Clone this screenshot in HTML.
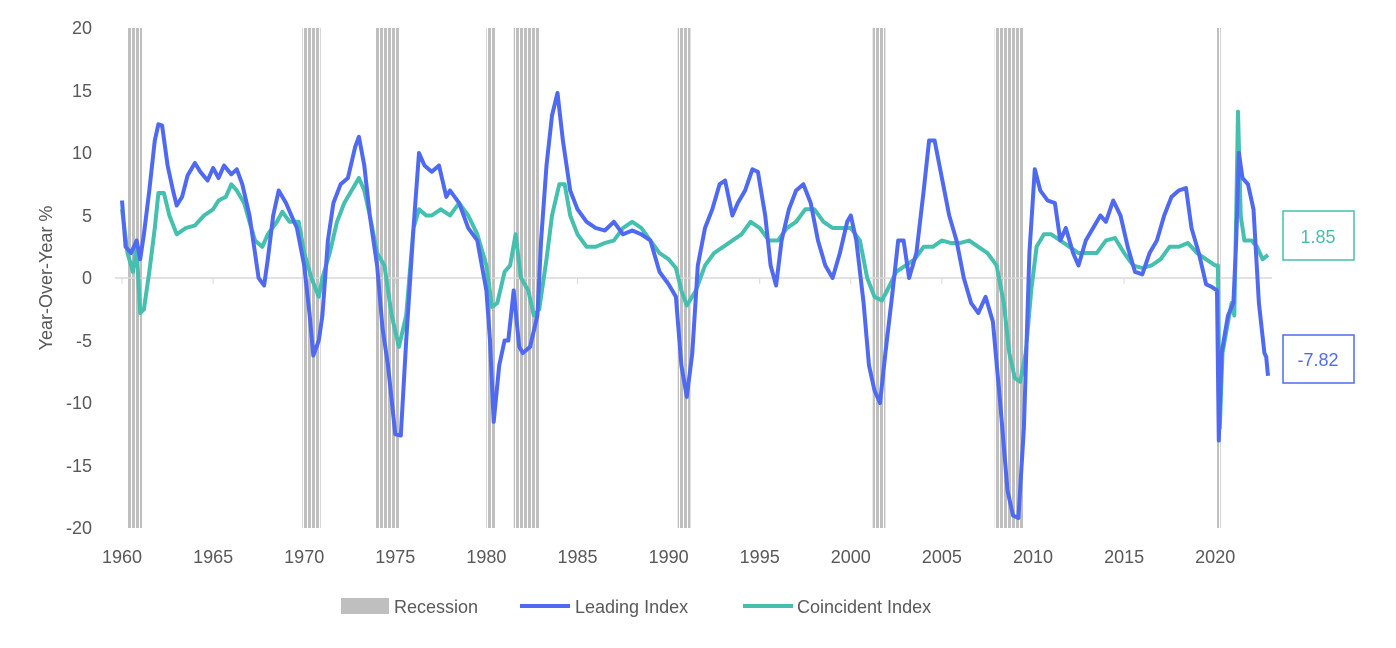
<!DOCTYPE html>
<html><head><meta charset="utf-8"><style>
body{margin:0;background:#fff;}
svg text{font-family:"Liberation Sans",sans-serif;fill:#595959;}
</style></head><body>
<svg id="s" width="1396" height="643" xmlns="http://www.w3.org/2000/svg">
<defs><pattern id="st" width="4" height="10" patternUnits="userSpaceOnUse"><rect width="3" height="10" fill="#bfbfbf"/></pattern></defs>
<g id="rec"></g>
<line x1="115" y1="278" x2="1272" y2="278" stroke="#d9d9d9" stroke-width="1.5"/>
<g id="ticks"></g>
<g font-size="18" text-anchor="end">
<text x="92" y="34">20</text><text x="92" y="97">15</text><text x="92" y="159">10</text><text x="92" y="222">5</text><text x="92" y="284">0</text><text x="92" y="347">-5</text><text x="92" y="409">-10</text><text x="92" y="472">-15</text><text x="92" y="534">-20</text>
</g>
<text x="52" y="278" font-size="18" text-anchor="middle" transform="rotate(-90 52 278)">Year-Over-Year %</text>
<g font-size="18" text-anchor="middle" id="xl"></g>
<path id="co" fill="none" stroke="#45bfae" stroke-width="4" stroke-linejoin="round"/>
<path id="le" fill="none" stroke="#4f6af0" stroke-width="4" stroke-linejoin="round"/>
<rect x="1283" y="211" width="71" height="49" fill="#fff" stroke="#45bfae" stroke-width="1.5"/>
<text x="1318" y="243" font-size="18" text-anchor="middle" style="fill:#45bfae">1.85</text>
<rect x="1283" y="335" width="71" height="48" fill="#fff" stroke="#4f6af0" stroke-width="1.5"/>
<text x="1318" y="366" font-size="18" text-anchor="middle" style="fill:#4f6af0">-7.82</text>
<rect x="341" y="598" width="48" height="16" fill="#bfbfbf"/>
<text x="394" y="613" font-size="18">Recession</text>
<line x1="520" y1="606" x2="570" y2="606" stroke="#4f6af0" stroke-width="4"/>
<text x="575" y="613" font-size="18">Leading Index</text>
<line x1="743" y1="606" x2="793" y2="606" stroke="#45bfae" stroke-width="4"/>
<text x="797" y="613" font-size="18">Coincident Index</text>
</svg>
<script>
var X=function(y){return 122+(y-1960)*18.22},Y=function(v){return 278-v*12.5};
var ns="http://www.w3.org/2000/svg";
var recs=[[1960.3,1961.1],[1969.9,1970.9],[1973.9,1975.2],[1980.0,1980.5],[1981.5,1982.9],[1990.5,1991.2],[2001.2,2001.9],[2007.9,2009.5],[2020.1,2020.3]];
var g=document.getElementById('rec');
recs.forEach(function(r){var e=document.createElementNS(ns,'rect');e.setAttribute('x',X(r[0]));e.setAttribute('y',28);e.setAttribute('width',X(r[1])-X(r[0]));e.setAttribute('height',500);e.setAttribute('fill','url(#st)');g.appendChild(e);});
var xl=document.getElementById('xl'),tk=document.getElementById('ticks');
for(var yr=1960;yr<=2020;yr+=5){var t=document.createElementNS(ns,'text');t.setAttribute('x',X(yr));t.setAttribute('y',563);t.textContent=yr;xl.appendChild(t);
var l=document.createElementNS(ns,'line');l.setAttribute('x1',X(yr));l.setAttribute('x2',X(yr));l.setAttribute('y1',278);l.setAttribute('y2',284);l.setAttribute('stroke','#d9d9d9');tk.appendChild(l);}
var L=[[1960,6.2],[1960.2,2.5],[1960.5,2],[1960.8,3],[1961.0,1.5],[1961.2,3.5],[1961.5,7],[1961.8,11],[1962.0,12.3],[1962.2,12.2],[1962.5,9],[1962.8,7],[1963.0,5.8],[1963.3,6.5],[1963.6,8.2],[1964,9.2],[1964.3,8.5],[1964.7,7.8],[1965,8.8],[1965.3,8],[1965.6,9],[1966,8.3],[1966.3,8.7],[1966.6,7.5],[1967,5],[1967.3,2],[1967.5,0],[1967.8,-0.6],[1968,1.5],[1968.3,5],[1968.6,7],[1969,6],[1969.3,5],[1969.6,4],[1970,1],[1970.3,-3],[1970.5,-6.2],[1970.8,-5],[1971,-3],[1971.3,3],[1971.6,6],[1972,7.5],[1972.4,8],[1972.8,10.5],[1973,11.3],[1973.3,9],[1973.6,5],[1974,1],[1974.3,-4],[1974.6,-7],[1975,-12.5],[1975.3,-12.6],[1975.6,-5],[1976,4],[1976.3,10],[1976.6,9],[1977,8.5],[1977.4,9],[1977.8,6.5],[1978,7],[1978.5,6],[1979,4],[1979.5,3],[1980,-1],[1980.2,-5],[1980.4,-11.5],[1980.7,-7],[1981,-5],[1981.2,-5],[1981.5,-1],[1981.8,-5.5],[1982,-6],[1982.4,-5.5],[1982.8,-3],[1983,3],[1983.3,9],[1983.6,13],[1983.9,14.8],[1984.2,11],[1984.6,7],[1985,5.5],[1985.5,4.5],[1986,4],[1986.5,3.8],[1987,4.5],[1987.5,3.5],[1988,3.8],[1988.5,3.5],[1989,3],[1989.5,0.5],[1990,-0.5],[1990.4,-1.5],[1990.7,-7],[1991,-9.5],[1991.3,-6],[1991.6,1],[1992,4],[1992.4,5.5],[1992.8,7.5],[1993.1,7.8],[1993.5,5],[1993.8,6],[1994.2,7],[1994.6,8.7],[1994.9,8.5],[1995.3,5],[1995.6,1],[1995.9,-0.6],[1996.2,3],[1996.6,5.5],[1997,7],[1997.4,7.5],[1997.8,6],[1998.2,3],[1998.6,1],[1999,0],[1999.4,2],[1999.8,4.5],[2000,5],[2000.3,3],[2000.7,-2],[2001,-7],[2001.3,-9],[2001.6,-10],[2001.9,-6],[2002.3,-1],[2002.6,3],[2002.9,3],[2003.2,0],[2003.6,2],[2004,7],[2004.3,11],[2004.6,11],[2005,8],[2005.4,5],[2005.8,3],[2006.2,0],[2006.6,-2],[2007,-2.8],[2007.4,-1.5],[2007.8,-3.5],[2008.2,-10],[2008.6,-17],[2008.9,-19],[2009.2,-19.2],[2009.5,-12],[2009.8,2],[2010.1,8.7],[2010.4,7],[2010.8,6.2],[2011.2,6],[2011.5,3],[2011.8,4],[2012.2,2],[2012.5,1],[2012.9,3],[2013.3,4],[2013.7,5],[2014,4.5],[2014.4,6.2],[2014.8,5],[2015.2,2.5],[2015.6,0.5],[2016,0.3],[2016.4,2],[2016.8,3],[2017.2,5],[2017.6,6.5],[2018,7],[2018.4,7.2],[2018.7,4],[2019.1,2],[2019.5,-0.5],[2019.8,-0.7],[2020.1,-1],[2020.2,-13],[2020.35,-6],[2020.7,-3],[2021.0,-2],[2021.15,3],[2021.3,10],[2021.5,8],[2021.8,7.5],[2022.1,5.5],[2022.4,-2],[2022.7,-6],[2022.8,-6.3],[2022.9,-7.82]];
var C=[[1960,5.5],[1960.3,2],[1960.6,0.5],[1960.8,2.5],[1961.0,-2.8],[1961.2,-2.5],[1961.5,0.5],[1961.8,4],[1962,6.8],[1962.3,6.8],[1962.6,5],[1963,3.5],[1963.5,4],[1964,4.2],[1964.5,5],[1965,5.5],[1965.3,6.2],[1965.7,6.5],[1966,7.5],[1966.3,7.0],[1966.7,6],[1967,4.5],[1967.3,3],[1967.7,2.5],[1968,3.5],[1968.5,4.5],[1968.8,5.3],[1969.2,4.5],[1969.7,4.5],[1970,2],[1970.4,0],[1970.8,-1.5],[1971,0],[1971.4,2],[1971.8,4.5],[1972.2,6],[1972.6,7],[1973,8],[1973.3,7],[1973.6,5],[1974,2],[1974.4,1],[1974.8,-3],[1975.2,-5.5],[1975.6,-3],[1976,4],[1976.3,5.5],[1976.7,5],[1977,5],[1977.5,5.5],[1978,5],[1978.5,6],[1979,5],[1979.5,3.5],[1980,1],[1980.3,-2.3],[1980.6,-2],[1981,0.5],[1981.3,1],[1981.6,3.5],[1981.9,0],[1982.3,-1],[1982.6,-3],[1982.9,-2.5],[1983.3,1.5],[1983.6,5],[1984,7.5],[1984.3,7.5],[1984.6,5],[1985,3.5],[1985.5,2.5],[1986,2.5],[1986.5,2.8],[1987,3],[1987.5,4],[1988,4.5],[1988.5,4],[1989,3],[1989.5,2],[1990,1.5],[1990.4,0.8],[1990.7,-1],[1991,-2.2],[1991.5,-1],[1992,1],[1992.5,2],[1993,2.5],[1993.5,3],[1994,3.5],[1994.5,4.5],[1995,4],[1995.5,3],[1996,3],[1996.5,4],[1997,4.5],[1997.5,5.5],[1998,5.5],[1998.5,4.5],[1999,4],[1999.5,4],[2000,4],[2000.5,3],[2000.9,0],[2001.3,-1.5],[2001.7,-1.8],[2002,-1],[2002.5,0.5],[2003,1],[2003.5,1.5],[2004,2.5],[2004.5,2.5],[2005,3],[2005.5,2.8],[2006,2.8],[2006.5,3],[2007,2.5],[2007.5,2],[2008,1],[2008.4,-2],[2008.7,-6],[2009,-8],[2009.3,-8.3],[2009.6,-6],[2009.9,-1],[2010.2,2.5],[2010.6,3.5],[2011,3.5],[2011.5,3],[2012,2.5],[2012.5,2],[2013,2],[2013.5,2],[2014,3],[2014.5,3.2],[2015,2],[2015.5,1],[2016,0.8],[2016.5,1],[2017,1.5],[2017.5,2.5],[2018,2.5],[2018.5,2.8],[2019,2],[2019.5,1.5],[2020,1],[2020.15,1],[2020.25,-12],[2020.4,-6],[2020.7,-3.5],[2020.9,-2],[2021.05,-3],[2021.15,5],[2021.25,13.3],[2021.4,5],[2021.6,3],[2022,3],[2022.3,2.5],[2022.6,1.5],[2022.9,1.85]];
function p(a){return a.map(function(q,i){return(i?'L':'M')+X(q[0]).toFixed(1)+' '+Y(q[1]).toFixed(1)}).join('')}
document.getElementById('le').setAttribute('d',p(L));
document.getElementById('co').setAttribute('d',p(C));
</script>
</body></html>
